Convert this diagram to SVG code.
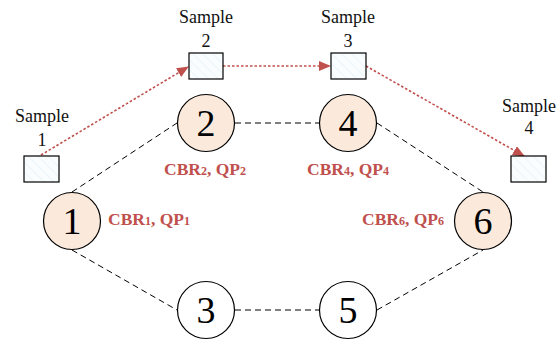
<svg xmlns="http://www.w3.org/2000/svg" width="557" height="344" viewBox="0 0 557 344">
<style>
text{font-family:"Liberation Serif","Times New Roman",serif}
.lbl{font-size:18px;fill:#111;text-anchor:middle}
.num{font-size:38px;fill:#000;text-anchor:middle}
.cbr{font-size:17.5px;font-weight:bold;fill:#c0504d}
.sub{font-size:12px}
.node{stroke:#000;stroke-width:1.2}
.hot{fill:#fbe9db}
.cold{fill:#fff}
.box{fill:url(#hatch);stroke:#000;stroke-width:1.2}
.link{stroke:#000;stroke-width:1;stroke-dasharray:6,4;fill:none}
.flow{stroke:#c0504d;stroke-width:1.6;stroke-dasharray:2.5,2;fill:none;marker-end:url(#arr)}
</style>
<defs>
<pattern id="hatch" patternUnits="userSpaceOnUse" width="7" height="7" patternTransform="rotate(-45)">
<rect width="7" height="7" fill="#fafdfe"/>
<line x1="0" y1="0" x2="0" y2="7" stroke="#dcedf4" stroke-width="1"/>
</pattern>
<marker id="arr" markerWidth="12" markerHeight="10" refX="11" refY="5" orient="auto" markerUnits="userSpaceOnUse">
<path d="M0,0 L12,5 L0,10 Z" fill="#c0504d"/>
</marker>
</defs>
<g id="connectors">
<line class="link" x1="72" y1="192" x2="177" y2="123"/>
<line class="link" x1="235" y1="123" x2="319" y2="123"/>
<line class="link" x1="377" y1="123" x2="483" y2="192"/>
<line class="link" x1="72" y1="250" x2="177" y2="310"/>
<line class="link" x1="235" y1="310" x2="319" y2="310"/>
<line class="link" x1="377" y1="310" x2="483" y2="250"/>
<line class="flow" x1="41" y1="155" x2="188" y2="67"/>
<line class="flow" x1="223" y1="66" x2="330" y2="66"/>
<line class="flow" x1="366" y1="66" x2="524" y2="156"/>
</g>
<g id="n1"><circle class="node hot" cx="72" cy="221" r="28.5"/><text class="num" x="72" y="234">1</text></g>
<g id="n2"><circle class="node hot" cx="206" cy="123" r="28.5"/><text class="num" x="206" y="136">2</text></g>
<g id="n3"><circle class="node cold" cx="206" cy="310" r="28.5"/><text class="num" x="206" y="323">3</text></g>
<g id="n4"><circle class="node hot" cx="348" cy="123" r="28.5"/><text class="num" x="348" y="136">4</text></g>
<g id="n5"><circle class="node cold" cx="348" cy="310" r="28.5"/><text class="num" x="348" y="323">5</text></g>
<g id="n6"><circle class="node hot" cx="483" cy="221" r="28.5"/><text class="num" x="483" y="234">6</text></g>
<g id="l1"><text class="cbr" x="108" y="225">CBR<tspan class="sub">1</tspan>, QP<tspan class="sub">1</tspan></text></g>
<g id="l2"><text class="cbr" x="164" y="175">CBR<tspan class="sub">2</tspan>, QP<tspan class="sub">2</tspan></text></g>
<g id="l4"><text class="cbr" x="307" y="175">CBR<tspan class="sub">4</tspan>, QP<tspan class="sub">4</tspan></text></g>
<g id="l6"><text class="cbr" x="362" y="225">CBR<tspan class="sub">6</tspan>, QP<tspan class="sub">6</tspan></text></g>
<g id="s1"><rect class="box" x="24" y="156" width="35" height="26"/><text class="lbl" x="42" y="122">Sample</text><text class="lbl" x="42" y="146">1</text></g>
<g id="s2"><rect class="box" x="189" y="53" width="34" height="26"/><text class="lbl" x="206" y="23">Sample</text><text class="lbl" x="206" y="47">2</text></g>
<g id="s3"><rect class="box" x="331" y="53" width="35" height="26"/><text class="lbl" x="348" y="23">Sample</text><text class="lbl" x="348" y="47">3</text></g>
<g id="s4"><rect class="box" x="511" y="156" width="35" height="26"/><text class="lbl" x="529" y="112">Sample</text><text class="lbl" x="529" y="134">4</text></g>
</svg>
